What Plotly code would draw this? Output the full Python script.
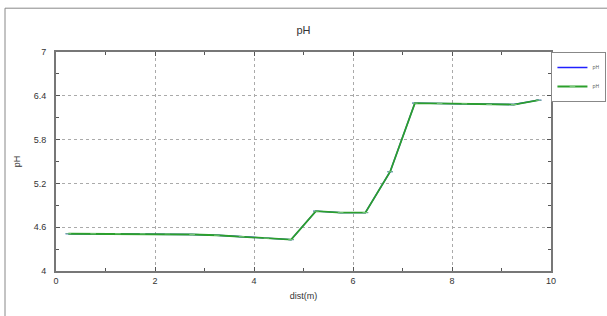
import plotly.graph_objects as go

dist = [0.25, 0.75, 1.25, 1.75, 2.25, 2.75, 3.25, 3.75, 4.25, 4.75,
        5.25, 5.75, 6.25, 6.75, 7.25, 7.75, 8.25, 8.75, 9.25, 9.75]
ph_blue = [4.51, 4.51, 4.51, 4.51, 4.51, 4.50, 4.49, 4.47, 4.45, 4.43,
           4.82, 4.80, 4.80, 5.36, 6.30, 6.295, 6.29, 6.28, 6.28, 6.34]
ph_green = list(ph_blue)
x_ticks = [0, 2, 4, 6, 8, 10]
y_ticks = [4, 4.6, 5.2, 5.8, 6.4, 7]

fig = go.Figure()
fig.add_trace(go.Scatter(x=dist, y=ph_blue, name="pH", mode="lines+markers",
                         line=dict(color="#2020ff", width=1.4),
                         marker=dict(symbol="line-ew", size=4, line=dict(color="#2020ff", width=1))))
fig.add_trace(go.Scatter(x=dist, y=ph_green, name="pH", mode="lines+markers",
                         line=dict(color="#2ca02c", width=1.8),
                         marker=dict(symbol="line-ew", size=4, line=dict(color="#77c877", width=1))))

axis_common = dict(showline=True, linecolor="#777777", linewidth=2, mirror="ticks",
                   ticks="inside", ticklen=4, tickcolor="#555555", automargin=False,
                   showgrid=True, gridcolor="#aaaaaa", griddash="dot", gridwidth=1,
                   zeroline=False, tickfont=dict(family="Liberation Sans, Arial", size=9, color="#333333"))

fig.update_xaxes(range=[0, 10], tickvals=x_ticks, ticktext=[str(v) for v in x_ticks],
                 minor=dict(ticks="inside", dtick=1, ticklen=3, tickcolor="#555555", showgrid=False),
                 title=dict(text="dist(m)", font=dict(family="Liberation Sans, Arial", size=9, color="#333333"), standoff=8),
                 **axis_common)
fig.update_yaxes(range=[4, 7], tickvals=y_ticks, ticktext=["4", "4.6", "5.2", "5.8", "6.4", "7"],
                 minor=dict(ticks="inside", dtick=0.3, tick0=4, ticklen=3, tickcolor="#555555", showgrid=False),
                 title=dict(text="pH", font=dict(family="Liberation Sans, Arial", size=9, color="#333333"), standoff=12),
                 ticklabelstandoff=6,
                 **axis_common)

fig.update_layout(
    width=607, height=316,
    margin=dict(l=56, r=56, t=52, b=45, autoexpand=False),
    paper_bgcolor="white", plot_bgcolor="white",
    title=dict(text="pH", x=0.5, xanchor="center", y=0.905, yanchor="middle",
               font=dict(family="Liberation Sans, Arial", size=11, color="#333333")),
    legend=dict(x=1.112, y=1.0, xanchor="right", yanchor="top",
                bordercolor="#888888", borderwidth=1, bgcolor="white",
                font=dict(size=5, color="#555555"), itemwidth=30, tracegroupgap=0),
    shapes=[
        dict(type="line", xref="paper", yref="paper", x0=-0.103, x1=1.2, y0=1.20, y1=1.20,
             line=dict(color="#888888", width=1)),
        dict(type="line", xref="paper", yref="paper", x0=-0.103, x1=-0.103, y0=1.20, y1=-0.3,
             line=dict(color="#888888", width=1)),
    ],
)

fig.write_html("out.html", config={"displayModeBar": False},
               post_script="document.body.style.margin='0';")
